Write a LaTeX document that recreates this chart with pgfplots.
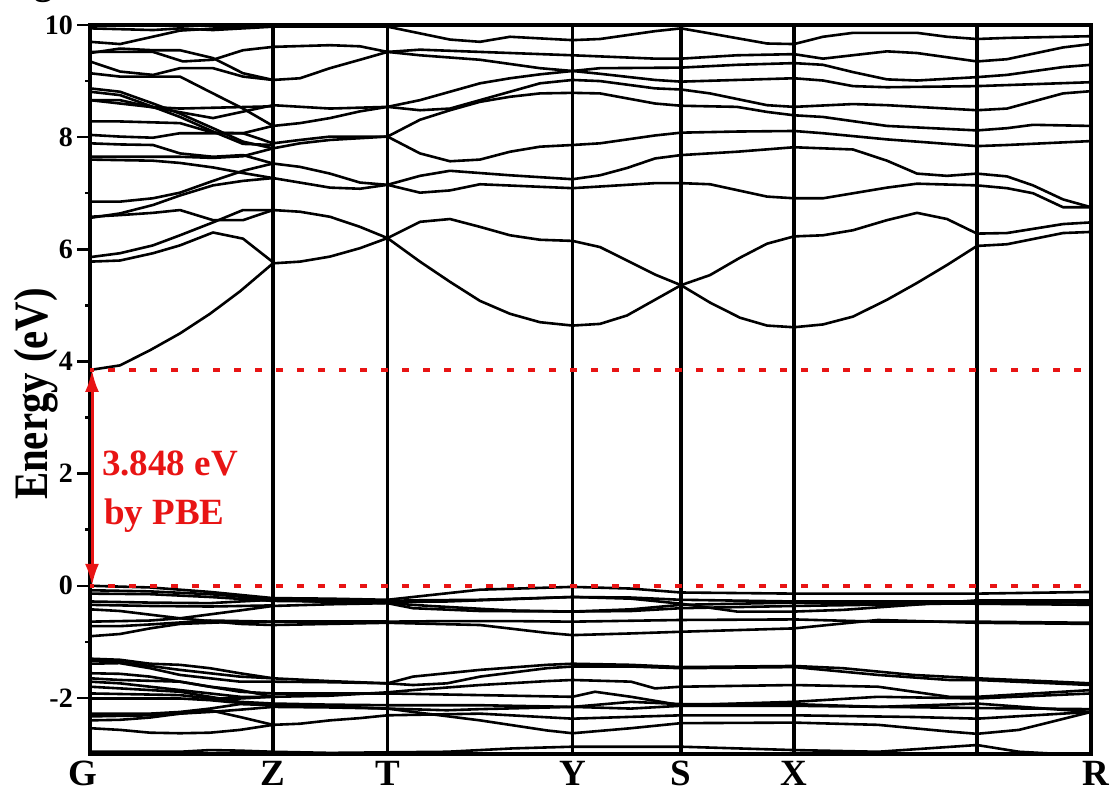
\documentclass[border=0pt]{standalone}
\usepackage{graphicx}
\usepackage{pgfplots}
\pgfplotsset{compat=1.18}
\usetikzlibrary{arrows.meta}
\usepackage{fontspec}
\setmainfont{Liberation Serif}
\definecolor{gapred}{RGB}{232,20,20}
\begin{document}
\begin{tikzpicture}
\useasboundingbox (0pt,0pt) rectangle (1113pt,793pt);
\node[anchor=base west, inner sep=0pt, font=\fontsize{37}{40}\selectfont\bfseries] at (34pt,798pt) {g};
\node[rotate=90, anchor=base, inner sep=0pt, font=\fontsize{48}{50}\selectfont\bfseries] at (47pt,399pt) {\scalebox{0.85}[1]{Energy (eV)}};
\begin{axis}[
  at={(90pt,39pt)}, anchor=south west,
  scale only axis, width=1001pt, height=729pt,
  xmin=0, xmax=1001, ymin=-3, ymax=10,
  clip=false,
  cycle list={{black,solid,mark=none}},
  xtick={0,183,297.5,482.5,591,704,887,1001},
  xticklabels={{\kern-14pt G},Z,T,Y,S,X,{},{R\kern-10pt}},
  xtick pos=left,
  ytick={-2,0,2,4,6,8,10},
  yticklabels={-2,0,2,4,6,8,10},
  minor y tick num=1,
  ytick pos=left, ytick align=outside,
  major tick length=13pt, minor tick length=5pt,
  every tick/.style={black, line width=2.5pt},
  axis line style={line width=3.5pt, black},
  x tick label style={font=\fontsize{37}{40}\selectfont\bfseries, inner sep=0pt, text depth=0pt, yshift=-7pt},
  y tick label style={font=\fontsize{28}{30}\selectfont\bfseries, inner sep=0pt, xshift=-4pt},
  every axis plot/.append style={line width=2.6pt, line join=round},
]
% high-symmetry vertical lines
\addplot[black, line width=3.4pt] coordinates {(183,-3)(183,10)};
\addplot[black, line width=3.4pt] coordinates {(297.5,-3)(297.5,10)};
\addplot[black, line width=3.4pt] coordinates {(482.5,-3)(482.5,10)};
\addplot[black, line width=3.4pt] coordinates {(591,-3)(591,10)};
\addplot[black, line width=3.4pt] coordinates {(704,-3)(704,10)};
\addplot[black, line width=3.4pt] coordinates {(887,-3)(887,10)};
% ===== conduction bands: G-Z
\addplot coordinates {(0,9.94)(63,9.91)(90,9.94)(123,9.91)(183,9.97)};
\addplot coordinates {(0,9.70)(30,9.66)(90,9.90)(153,9.97)(183,9.97)};
\addplot coordinates {(0,9.50)(30,9.58)(63,9.55)(90,9.55)(123,9.41)(153,9.14)(183,9.02)};
\addplot coordinates {(0,9.52)(63,9.52)(93,9.35)(123,9.38)(153,9.55)(183,9.61)};
\addplot coordinates {(0,9.35)(30,9.17)(63,9.11)(90,9.23)(123,9.23)(153,9.08)(183,9.02)};
\addplot coordinates {(0,9.14)(30,9.08)(90,9.08)(123,8.78)(153,8.51)(183,8.20)};
\addplot coordinates {(0,8.87)(30,8.81)(63,8.60)(90,8.42)(123,8.16)(153,7.92)(183,7.80)};
\addplot coordinates {(0,8.81)(30,8.75)(63,8.54)(90,8.36)(123,8.10)(153,7.88)(183,7.86)};
\addplot coordinates {(0,8.66)(30,8.66)(60,8.54)(123,8.34)(183,8.57)};
\addplot coordinates {(0,8.66)(60,8.54)(90,8.51)(183,8.55)};
\addplot coordinates {(0,8.28)(30,8.28)(90,8.25)(123,8.08)(153,8.07)(183,8.20)};
\addplot coordinates {(0,8.04)(30,8.01)(63,7.99)(90,8.07)(153,8.07)(183,7.89)};
\addplot coordinates {(0,7.89)(30,7.87)(63,7.86)(90,7.71)(123,7.65)(153,7.68)(183,7.53)};
\addplot coordinates {(0,7.65)(90,7.65)(123,7.63)(153,7.66)(183,7.80)};
\addplot coordinates {(0,7.60)(63,7.58)(90,7.54)(123,7.46)(153,7.36)(183,7.27)};
\addplot coordinates {(0,6.85)(30,6.85)(63,6.91)(90,7.01)(123,7.22)(153,7.40)(183,7.53)};
\addplot coordinates {(0,6.58)(30,6.61)(63,6.65)(90,6.70)(123,6.52)(153,6.52)(183,6.70)};
\addplot coordinates {(0,6.56)(30,6.64)(63,6.79)(90,6.96)(123,7.14)(153,7.22)(183,7.27)};
\addplot coordinates {(0,5.86)(30,5.93)(63,6.07)(90,6.25)(123,6.48)(153,6.70)(183,6.70)};
\addplot coordinates {(0,5.78)(30,5.80)(63,5.93)(90,6.07)(123,6.30)(153,6.19)(183,5.77)};
\addplot coordinates {(0,3.848)(30,3.93)(60,4.2)(90,4.5)(120,4.85)(150,5.25)(183,5.75)};
% Z-T
\addplot coordinates {(183,9.97)(297.5,9.97)};
\addplot coordinates {(183,9.61)(240,9.64)(270,9.62)(297.5,9.52)};
\addplot coordinates {(183,9.02)(210,9.05)(240,9.23)(270,9.38)(297.5,9.52)};
\addplot coordinates {(183,8.57)(240,8.51)(297.5,8.54)};
\addplot coordinates {(183,8.20)(210,8.25)(240,8.34)(270,8.46)(297.5,8.54)};
\addplot coordinates {(183,7.89)(210,7.95)(240,8.01)(270,8.01)(297.5,8.01)};
\addplot coordinates {(183,7.80)(210,7.89)(240,7.95)(297.5,8.01)};
\addplot coordinates {(183,7.53)(210,7.47)(240,7.35)(270,7.19)(297.5,7.15)};
\addplot coordinates {(183,7.27)(210,7.19)(240,7.10)(270,7.08)(297.5,7.15)};
\addplot coordinates {(183,6.70)(210,6.67)(240,6.58)(270,6.40)(297.5,6.20)};
\addplot coordinates {(183,5.75)(210,5.78)(240,5.87)(270,6.02)(297.5,6.20)};
% T-Y
\addplot coordinates {(297.5,9.97)(360,9.74)(390,9.70)(420,9.79)(482.5,9.73)};
\addplot coordinates {(297.5,9.52)(330,9.56)(390,9.52)(482.5,9.46)};
\addplot coordinates {(297.5,9.52)(330,9.46)(390,9.38)(450,9.23)(482.5,9.18)};
\addplot coordinates {(297.5,8.54)(330,8.66)(360,8.81)(390,8.96)(420,9.05)(450,9.12)(482.5,9.18)};
\addplot coordinates {(297.5,8.54)(330,8.48)(360,8.51)(390,8.66)(420,8.81)(450,8.96)(482.5,9.02)};
\addplot coordinates {(297.5,8.01)(330,8.31)(360,8.48)(390,8.63)(420,8.72)(450,8.78)(482.5,8.79)};
\addplot coordinates {(297.5,8.01)(330,7.71)(360,7.57)(390,7.60)(420,7.74)(450,7.83)(482.5,7.86)};
\addplot coordinates {(297.5,7.15)(330,7.31)(360,7.40)(420,7.32)(482.5,7.25)};
\addplot coordinates {(297.5,7.15)(330,7.01)(360,7.05)(390,7.16)(482.5,7.09)};
\addplot coordinates {(297.5,6.20)(330,6.49)(360,6.54)(390,6.40)(420,6.25)(450,6.17)(482.5,6.15)};
\addplot coordinates {(297.5,6.20)(330,5.78)(360,5.42)(390,5.08)(420,4.85)(450,4.70)(482.5,4.64)};
% Y-S
\addplot coordinates {(482.5,9.73)(510,9.75)(565,9.89)(591,9.94)};
\addplot coordinates {(482.5,9.46)(565,9.40)(591,9.40)};
\addplot coordinates {(482.5,9.18)(510,9.23)(591,9.24)};
\addplot coordinates {(482.5,9.18)(510,9.13)(565,9.02)(591,8.99)};
\addplot coordinates {(482.5,9.02)(510,9.00)(565,8.87)(591,8.85)};
\addplot coordinates {(482.5,8.79)(510,8.78)(565,8.60)(591,8.56)};
\addplot coordinates {(482.5,7.86)(510,7.89)(565,8.03)(591,8.08)};
\addplot coordinates {(482.5,7.25)(510,7.32)(537,7.45)(565,7.62)(591,7.68)};
\addplot coordinates {(482.5,7.09)(565,7.18)(591,7.18)};
\addplot coordinates {(482.5,6.15)(510,6.04)(537,5.80)(565,5.55)(591,5.36)};
\addplot coordinates {(482.5,4.64)(510,4.67)(537,4.82)(565,5.10)(591,5.36)};
% S-X
\addplot coordinates {(591,9.94)(620,9.85)(677,9.67)(704,9.66)};
\addplot coordinates {(591,9.40)(647,9.46)(704,9.48)};
\addplot coordinates {(591,9.24)(647,9.29)(704,9.32)};
\addplot coordinates {(591,8.99)(647,9.02)(704,9.05)};
\addplot coordinates {(591,8.85)(620,8.78)(677,8.57)(704,8.54)};
\addplot coordinates {(591,8.56)(647,8.54)(677,8.45)(704,8.39)};
\addplot coordinates {(591,8.08)(647,8.10)(704,8.11)};
\addplot coordinates {(591,7.68)(647,7.74)(704,7.82)};
\addplot coordinates {(591,7.18)(620,7.16)(677,6.94)(704,6.91)};
\addplot coordinates {(591,5.36)(620,5.54)(650,5.85)(677,6.10)(704,6.23)};
\addplot coordinates {(591,5.36)(620,5.05)(650,4.78)(677,4.64)(704,4.61)};
% X-U
\addplot coordinates {(704,9.66)(733,9.79)(763,9.86)(827,9.86)(857,9.79)(887,9.75)};
\addplot coordinates {(704,9.48)(733,9.40)(797,9.53)(827,9.50)(887,9.35)};
\addplot coordinates {(704,9.32)(733,9.29)(763,9.16)(797,9.03)(827,9.01)(887,9.07)};
\addplot coordinates {(704,9.05)(733,9.01)(763,8.91)(797,8.89)(887,8.91)};
\addplot coordinates {(704,8.54)(763,8.59)(797,8.57)(887,8.48)};
\addplot coordinates {(704,8.39)(733,8.36)(797,8.20)(887,8.12)};
\addplot coordinates {(704,8.11)(733,8.07)(797,7.96)(887,7.84)};
\addplot coordinates {(704,7.82)(763,7.78)(797,7.58)(827,7.35)(857,7.31)(887,7.35)};
\addplot coordinates {(704,6.91)(733,6.91)(797,7.10)(827,7.17)(887,7.14)};
\addplot coordinates {(704,6.23)(733,6.25)(763,6.34)(797,6.52)(827,6.65)(857,6.54)(887,6.28)};
\addplot coordinates {(704,4.61)(733,4.66)(763,4.80)(797,5.10)(827,5.40)(857,5.72)(887,6.06)};
% U-R
\addplot coordinates {(887,9.75)(917,9.77)(1001,9.80)};
\addplot coordinates {(887,9.35)(917,9.39)(973,9.60)(1001,9.66)};
\addplot coordinates {(887,9.07)(917,9.11)(973,9.25)(1001,9.29)};
\addplot coordinates {(887,8.91)(1001,8.98)};
\addplot coordinates {(887,8.48)(917,8.51)(973,8.78)(1001,8.82)};
\addplot coordinates {(887,8.12)(917,8.16)(943,8.22)(1001,8.20)};
\addplot coordinates {(887,7.84)(917,7.86)(1001,7.93)};
\addplot coordinates {(887,7.35)(917,7.30)(943,7.14)(973,6.89)(1001,6.75)};
\addplot coordinates {(887,7.14)(917,7.09)(943,7.00)(973,6.75)(1001,6.75)};
\addplot coordinates {(887,6.28)(917,6.29)(973,6.45)(1001,6.48)};
\addplot coordinates {(887,6.06)(917,6.09)(973,6.29)(1001,6.31)};
% ===== valence bands, upper group
\addplot coordinates {(0,0)(60,-0.03)(120,-0.11)(183,-0.22)};
\addplot coordinates {(0,-0.08)(60,-0.10)(120,-0.15)(183,-0.24)};
\addplot coordinates {(0,-0.14)(60,-0.15)(120,-0.20)(183,-0.27)};
\addplot coordinates {(0,-0.28)(60,-0.30)(120,-0.31)(150,-0.28)(183,-0.25)};
\addplot coordinates {(0,-0.34)(60,-0.36)(120,-0.37)(183,-0.35)};
\addplot coordinates {(0,-0.42)(30,-0.45)(90,-0.58)(150,-0.68)(183,-0.70)};
\addplot coordinates {(0,-0.64)(60,-0.62)(90,-0.58)(150,-0.44)(183,-0.36)};
\addplot coordinates {(0,-0.72)(30,-0.72)(60,-0.69)(120,-0.62)(183,-0.64)};
\addplot coordinates {(0,-0.90)(30,-0.86)(60,-0.76)(90,-0.68)(150,-0.64)(183,-0.64)};
\addplot coordinates {(183,-0.22)(240,-0.23)(297.5,-0.25)};
\addplot coordinates {(183,-0.24)(240,-0.26)(297.5,-0.27)};
\addplot coordinates {(183,-0.27)(240,-0.28)(297.5,-0.29)};
\addplot coordinates {(183,-0.25)(240,-0.29)(297.5,-0.31)};
\addplot coordinates {(183,-0.36)(240,-0.33)(297.5,-0.31)};
\addplot coordinates {(183,-0.64)(240,-0.64)(297.5,-0.64)};
\addplot coordinates {(183,-0.70)(240,-0.68)(297.5,-0.66)};
\addplot coordinates {(297.5,-0.25)(323,-0.20)(390,-0.07)(482.5,-0.02)};
\addplot coordinates {(297.5,-0.27)(323,-0.26)(390,-0.25)(482.5,-0.20)};
\addplot coordinates {(297.5,-0.29)(357,-0.28)(420,-0.24)(482.5,-0.20)};
\addplot coordinates {(297.5,-0.31)(323,-0.40)(390,-0.45)(482.5,-0.46)};
\addplot coordinates {(297.5,-0.31)(340,-0.36)(420,-0.44)(482.5,-0.46)};
\addplot coordinates {(297.5,-0.64)(357,-0.63)(423,-0.63)(482.5,-0.64)};
\addplot coordinates {(297.5,-0.66)(390,-0.70)(457,-0.84)(482.5,-0.88)};
\addplot coordinates {(482.5,-0.02)(541,-0.05)(591,-0.12)(704,-0.14)(887,-0.14)(1001,-0.11)};
\addplot coordinates {(482.5,-0.20)(541,-0.23)(591,-0.32)(647,-0.46)(704,-0.46)(753,-0.43)(823,-0.34)(887,-0.26)(1001,-0.26)};
\addplot coordinates {(482.5,-0.20)(541,-0.21)(591,-0.25)(704,-0.28)(887,-0.28)(1001,-0.30)};
\addplot coordinates {(482.5,-0.46)(541,-0.42)(591,-0.34)(704,-0.30)(887,-0.32)(1001,-0.34)};
\addplot coordinates {(482.5,-0.46)(541,-0.45)(591,-0.40)(704,-0.36)(887,-0.31)(1001,-0.29)};
\addplot coordinates {(482.5,-0.64)(591,-0.61)(704,-0.60)(788,-0.64)(887,-0.64)(1001,-0.66)};
\addplot coordinates {(482.5,-0.88)(541,-0.85)(591,-0.82)(704,-0.76)(788,-0.61)(887,-0.66)(1001,-0.68)};
% ===== valence bands, lower group: G-Z
\addplot coordinates {(0,-1.30)(30,-1.32)(60,-1.39)(90,-1.41)(120,-1.47)(150,-1.56)(183,-1.65)};
\addplot coordinates {(0,-1.33)(30,-1.36)(90,-1.50)(150,-1.62)(183,-1.65)};
\addplot coordinates {(0,-1.39)(30,-1.38)(60,-1.47)(90,-1.59)(120,-1.65)(150,-1.71)(183,-1.71)};
\addplot coordinates {(0,-1.56)(30,-1.57)(60,-1.62)(90,-1.71)(120,-1.80)(150,-1.89)(183,-1.92)};
\addplot coordinates {(0,-1.65)(30,-1.68)(90,-1.71)(120,-1.80)(150,-1.86)(183,-1.98)};
\addplot coordinates {(0,-1.71)(30,-1.74)(60,-1.80)(90,-1.86)(120,-1.92)(150,-1.98)(183,-1.98)};
\addplot coordinates {(0,-1.80)(60,-1.86)(90,-1.89)(120,-1.98)(150,-2.07)(183,-2.10)};
\addplot coordinates {(0,-1.92)(90,-1.95)(120,-2.01)(150,-2.01)(183,-1.98)};
\addplot coordinates {(0,-2.01)(90,-2.01)(120,-2.04)(150,-2.09)(183,-2.13)};
\addplot coordinates {(0,-2.28)(60,-2.28)(90,-2.25)(120,-2.19)(150,-2.11)(183,-2.13)};
\addplot coordinates {(0,-2.33)(60,-2.31)(90,-2.28)(120,-2.25)(150,-2.21)(183,-2.16)};
\addplot coordinates {(0,-2.40)(30,-2.39)(60,-2.35)(90,-2.28)(120,-2.22)(150,-2.34)(183,-2.48)};
\addplot coordinates {(0,-2.54)(30,-2.57)(60,-2.62)(90,-2.63)(120,-2.62)(150,-2.57)(183,-2.48)};
\addplot coordinates {(0,-2.96)(90,-2.96)(120,-2.93)(150,-2.94)(183,-2.96)};
% Z-T
\addplot coordinates {(183,-1.65)(240,-1.70)(297.5,-1.74)};
\addplot coordinates {(183,-1.71)(240,-1.72)(297.5,-1.74)};
\addplot coordinates {(183,-1.92)(240,-1.92)(297.5,-1.92)};
\addplot coordinates {(183,-1.98)(240,-1.96)(297.5,-1.90)};
\addplot coordinates {(183,-2.10)(240,-2.12)(297.5,-2.13)};
\addplot coordinates {(183,-2.13)(240,-2.15)(297.5,-2.19)};
\addplot coordinates {(183,-2.16)(240,-2.17)(297.5,-2.19)};
\addplot coordinates {(183,-2.48)(210,-2.46)(240,-2.40)(270,-2.36)(297.5,-2.31)};
\addplot coordinates {(183,-2.96)(240,-2.98)(297.5,-2.97)};
% T-Y
\addplot coordinates {(297.5,-1.74)(323,-1.62)(390,-1.50)(457,-1.41)(482.5,-1.39)};
\addplot coordinates {(297.5,-1.74)(323,-1.77)(357,-1.74)(390,-1.62)(457,-1.47)(482.5,-1.44)};
\addplot coordinates {(297.5,-1.90)(323,-1.86)(390,-1.77)(457,-1.70)(482.5,-1.68)};
\addplot coordinates {(297.5,-1.92)(390,-1.95)(482.5,-1.98)};
\addplot coordinates {(297.5,-2.13)(390,-2.13)(482.5,-2.16)};
\addplot coordinates {(297.5,-2.19)(357,-2.22)(390,-2.20)(482.5,-2.16)};
\addplot coordinates {(297.5,-2.19)(323,-2.25)(390,-2.40)(457,-2.58)(482.5,-2.63)};
\addplot coordinates {(297.5,-2.31)(390,-2.28)(482.5,-2.37)};
\addplot coordinates {(297.5,-2.97)(357,-2.96)(423,-2.90)(482.5,-2.87)};
% Y-R
\addplot coordinates {(482.5,-1.39)(541,-1.41)(591,-1.45)(704,-1.43)(753,-1.47)(823,-1.59)(887,-1.65)(965,-1.71)(1001,-1.74)};
\addplot coordinates {(482.5,-1.44)(541,-1.44)(591,-1.47)(704,-1.45)(788,-1.59)(859,-1.68)(887,-1.68)(1001,-1.77)};
\addplot coordinates {(482.5,-1.68)(541,-1.71)(565,-1.83)(591,-1.80)(704,-1.77)(788,-1.80)(859,-1.98)(887,-1.98)(1001,-1.86)};
\addplot coordinates {(482.5,-1.98)(505,-1.89)(541,-1.98)(591,-2.13)(647,-2.10)(704,-2.07)(788,-1.98)(887,-2.01)(1001,-1.92)};
\addplot coordinates {(482.5,-2.16)(541,-2.07)(591,-2.11)(704,-2.11)(788,-2.16)(887,-2.10)(1001,-2.25)};
\addplot coordinates {(482.5,-2.16)(541,-2.19)(591,-2.14)(704,-2.14)(887,-2.18)(1001,-2.20)};
\addplot coordinates {(482.5,-2.37)(591,-2.31)(704,-2.31)(823,-2.34)(887,-2.37)(1001,-2.25)};
\addplot coordinates {(482.5,-2.63)(541,-2.54)(591,-2.45)(704,-2.44)(788,-2.48)(859,-2.60)(887,-2.64)(929,-2.57)(1001,-2.25)};
\addplot coordinates {(482.5,-2.87)(591,-2.87)(704,-2.93)(788,-2.96)(887,-2.84)(929,-2.96)(960,-2.99)};
% ===== band gap annotation
\addplot[gapred, line width=4pt, dash pattern=on 7pt off 14pt, dash phase=3pt] coordinates {(0,0)(1001,0)};
\addplot[gapred, line width=4pt, dash pattern=on 7pt off 14pt, dash phase=3pt] coordinates {(0,3.848)(1001,3.848)};
\addplot[gapred, line width=3pt, {Latex[length=22pt,width=14pt]}-{Latex[length=22pt,width=14pt]}] coordinates {(2,0)(2,3.848)};
\node[anchor=base west, inner sep=0pt, text=gapred, font=\fontsize{37}{40}\selectfont\bfseries] at (axis cs:12,1.974) {3.848 eV};
\node[anchor=base west, inner sep=0pt, text=gapred, font=\fontsize{37}{40}\selectfont\bfseries] at (axis cs:14,1.10) {by PBE};
\end{axis}
\end{tikzpicture}
\end{document}
